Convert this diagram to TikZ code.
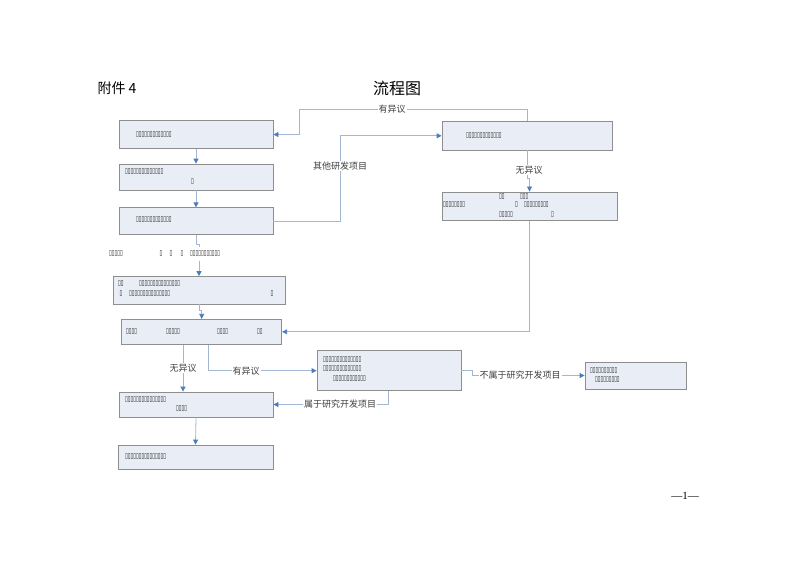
\documentclass[tikz,border=0pt]{standalone}
\usepackage{fontspec}
\setmainfont{Liberation Serif}
\newfontfamily\cjk{Noto Sans CJK SC}
\newfontfamily\tofufont[FakeStretch=0.66]{DejaVu Sans}
\usetikzlibrary{arrows.meta}

\definecolor{boxfill}{HTML}{E8EDF6}
\definecolor{boxline}{HTML}{8E8E8E}
\definecolor{linkline}{HTML}{A3B7D3}
\definecolor{tipblue}{HTML}{4A7EBB}

\tikzset{
    box/.style={draw=boxline,fill=boxfill,line width=0.8pt,inner sep=0pt},
    tofu/.style={anchor=west,inner sep=0pt,text=black!90,font=\tofufont\fontsize{7.5}{7.5}\selectfont},
    lab/.style={fill=white,inner sep=1pt,text=black!75,font=\cjk\fontsize{9}{10}\selectfont},
    link/.style={draw=linkline,line width=0.8pt},
    tip/.style={link,-{Triangle[length=5pt,width=5pt,color=tipblue]}}
}

\begin{document}
\begin{tikzpicture}[x=1pt,y=-1pt]
    \useasboundingbox (0,0) rectangle (800,566);

    \node[anchor=west,font=\cjk\fontsize{14}{16}\selectfont] (att) at (94,88) {附件 4};
    \node[font=\cjk\fontsize{16}{18}\selectfont] (title) at (397,88) {流程图};
    \node[font=\fontsize{11}{12}\selectfont] (page) at (685,496) {—1—};

    % left column
    \node[box,minimum width=154,minimum height=28] (b1) at (196,134.5) {};
    \node[box,minimum width=154,minimum height=26] (b2) at (196,177) {};
    \node[box,minimum width=154,minimum height=26.5] (b3) at (196,221) {};
    \node[box,minimum width=172,minimum height=27.5] (b4) at (199,290.3) {};
    \node[box,minimum width=160,minimum height=25] (b5) at (201.7,331.8) {};
    \node[box,minimum width=154,minimum height=25] (b8) at (196,404.5) {};
    \node[box,minimum width=155,minimum height=24] (b9) at (195.5,457) {};

    % right side
    \node[box,minimum width=170,minimum height=28.3] (r1) at (527,135.8) {};
    \node[box,minimum width=175,minimum height=28.7] (r2) at (529.5,206.3) {};
    \node[box,minimum width=144,minimum height=40] (b6) at (389,370.7) {};
    \node[box,minimum width=101,minimum height=27] (b7) at (635.5,375.5) {};

    % connectors
    \draw[tip] (b1.south) -- (b2.north);
    \draw[tip] (b2.south) -- (b3.north);
    \draw[tip] (b3.south) -- ++(0,10) -| (b4.north);
    \draw[tip] (b4.south) -- ++(0,6) -| (b5.north);
    \draw[tip] (b8.south) -- (b9.north);
    \draw[tip] (r1.north) -- (527,109) -- (299,109) -- (299,134.5) -- (b1.east);
    \draw[tip] (b3.east) -- (340,221) -- (340,135.8) -- (r1.west);
    \draw[tip] (r1.south) -- ++(0,28) -| (r2.north);
    \draw[tip] (r2.south) |- (b5.east);
    \draw[tip] ([xshift=-18.7pt]b5.south) -- ([xshift=-18.7pt]b5.south |- b8.north);
    \draw[tip] ([xshift=6.3pt]b5.south) |- (b6.west);
    \draw[tip] (b6.east) -- ++(11,0) |- (b7.west);
    \draw[tip] ([xshift=-1pt]b6.south) |- (b8.east);

    % labels
    \node[lab] (l1) at (392,109) {有异议};
    \node[lab] (l2) at (340,166) {其他研发项目};
    \node[lab] (l3) at (529,170) {无异议};
    \node[lab] (l4) at (183,368) {无异议};
    \node[lab] (l5) at (246,371) {有异议};
    \node[lab] (l6) at (520,375.5) {不属于研究开发项目};
    \node[lab] (l7) at (340,404.5) {属于研究开发项目};

    % box texts
    \node[tofu] (b1t) at (136,134.5) {▯▯▯▯▯▯▯▯▯▯▯▯▯};
    \node[tofu] (b2t) at (125,172) {▯▯▯▯▯▯▯▯▯▯▯▯▯▯};
    \node[tofu] (b2u) at (191,182) {▯};
    \node[tofu] (b3t) at (136,220) {▯▯▯▯▯▯▯▯▯▯▯▯▯};
    \node[tofu] (f1) at (109,254) {▯▯▯▯▯};
    \node[tofu] (f2) at (159.5,254) {▯};
    \node[tofu] (f3) at (169.5,254) {▯};
    \node[tofu] (f4) at (180.5,254) {▯};
    \node[tofu,fill=white,inner ysep=4pt] (f5) at (190,254) {▯▯▯▯▯▯▯▯▯▯▯};
    \node[tofu] (b4t) at (118,284) {▯▯};
    \node[tofu] (b4u) at (139,284) {▯▯▯▯▯▯▯▯▯▯▯▯▯▯▯};
    \node[tofu] (b4v) at (119.5,294) {▯};
    \node[tofu] (b4w) at (129,294) {▯▯▯▯▯▯▯▯▯▯▯▯▯▯▯};
    \node[tofu] (b4x) at (270.5,294) {▯};
    \node[tofu] (b5t) at (126,332) {▯▯▯▯};
    \node[tofu] (b5u) at (166,332) {▯▯▯▯▯};
    \node[tofu] (b5v) at (217,332) {▯▯▯▯};
    \node[tofu] (b5w) at (257,332) {▯▯};
    \node[tofu] (b6t) at (323,360) {▯▯▯▯▯▯▯▯▯▯▯▯▯▯};
    \node[tofu] (b6u) at (323,369) {▯▯▯▯▯▯▯▯▯▯▯▯▯▯};
    \node[tofu] (b6v) at (333,379) {▯▯▯▯▯▯▯▯▯▯▯▯};
    \node[tofu] (b7t) at (590,370.7) {▯▯▯▯▯▯▯▯▯▯};
    \node[tofu] (b7u) at (595,380) {▯▯▯▯▯▯▯▯▯};
    \node[tofu] (b8t) at (125,400) {▯▯▯▯▯▯▯▯▯▯▯▯▯▯▯};
    \node[tofu] (b8u) at (176,409) {▯▯▯▯};
    \node[tofu] (b9t) at (125,457) {▯▯▯▯▯▯▯▯▯▯▯▯▯▯▯};
    \node[tofu] (r1t) at (466,136) {▯▯▯▯▯▯▯▯▯▯▯▯▯};
    \node[tofu] (r2t) at (499,197) {▯▯};
    \node[tofu] (r2u) at (520,197) {▯▯▯};
    \node[tofu] (r2v) at (443,205) {▯▯▯▯▯▯▯▯};
    \node[tofu] (r2w) at (515,205) {▯};
    \node[tofu] (r2x) at (524,205) {▯▯▯▯▯▯▯▯▯};
    \node[tofu] (r2y) at (499,215) {▯▯▯▯▯};
    \node[tofu] (r2z) at (551,215) {▯};
\end{tikzpicture}
\end{document}
